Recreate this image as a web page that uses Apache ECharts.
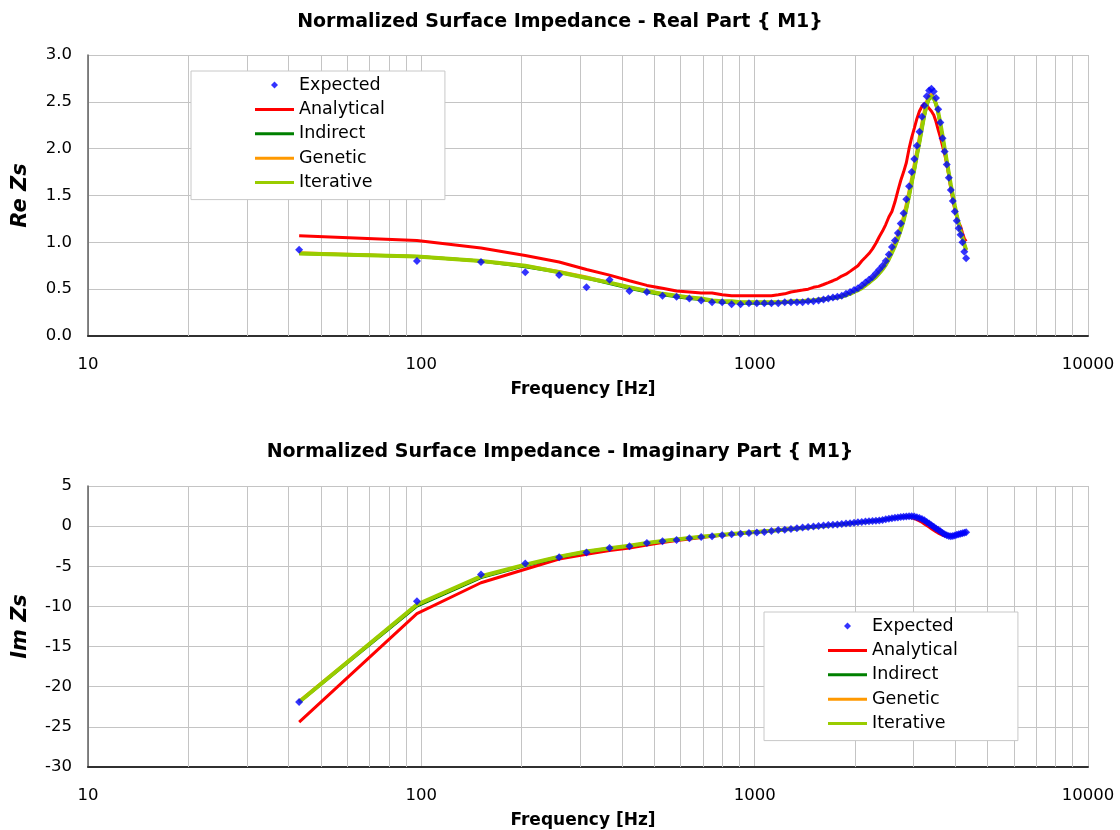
<!DOCTYPE html>
<html lang="en">
<head>
    <meta charset="UTF-8">
    <title>Normalized Surface Impedance</title>
    <script src="https://cdn.jsdelivr.net/npm/echarts@6/dist/echarts.min.js"></script>
    <style>
        html, body {margin: 0; padding: 0; background: #fff;}
        #chart {width: 1120px; height: 830px;}
    </style>
</head>
<body>
<div id="chart"></div>

<script>
    // frequencies of the measured points [Hz]
    const freq = [
        43, 97, 151, 205, 259, 313, 367, 421, 475, 529,
        583, 637, 691, 745, 799, 853, 907, 961, 1015, 1069,
        1123, 1177, 1231, 1285, 1339, 1393, 1447, 1501, 1555, 1609,
        1663, 1717, 1771, 1825, 1879, 1933, 1987, 2041, 2095, 2149,
        2203, 2257, 2311, 2365, 2419, 2473, 2527, 2581, 2635, 2689,
        2743, 2797, 2851, 2905, 2959, 3013, 3067, 3121, 3175, 3229,
        3283, 3337, 3391, 3445, 3499, 3553, 3607, 3661, 3715, 3769,
        3823, 3877, 3931, 3985, 4039, 4093, 4147, 4201, 4255, 4309
    ]

    // real part
    const reExpected = [
        0.92, 0.80, 0.79, 0.68, 0.65, 0.52, 0.60, 0.48, 0.47, 0.43,
        0.42, 0.40, 0.38, 0.36, 0.36, 0.34, 0.34, 0.35, 0.35, 0.35,
        0.35, 0.35, 0.36, 0.36, 0.36, 0.36, 0.37, 0.37, 0.38, 0.39,
        0.40, 0.41, 0.42, 0.43, 0.45, 0.47, 0.49, 0.51, 0.54, 0.57,
        0.60, 0.63, 0.67, 0.71, 0.75, 0.80, 0.87, 0.95, 1.02, 1.10,
        1.20, 1.31, 1.46, 1.60, 1.75, 1.89, 2.03, 2.18, 2.34, 2.46,
        2.56, 2.62, 2.64, 2.61, 2.54, 2.42, 2.28, 2.11, 1.97, 1.83,
        1.69, 1.56, 1.44, 1.33, 1.23, 1.15, 1.08, 1.00, 0.90, 0.83
    ]
    const reAnalytical = [
        1.07, 1.02, 0.94, 0.86, 0.79, 0.71, 0.65, 0.59, 0.54, 0.51,
        0.48, 0.47, 0.46, 0.46, 0.44, 0.43, 0.43, 0.43, 0.43, 0.43,
        0.43, 0.44, 0.45, 0.47, 0.48, 0.49, 0.50, 0.52, 0.53, 0.55,
        0.57, 0.59, 0.61, 0.64, 0.66, 0.69, 0.72, 0.75, 0.80, 0.84,
        0.88, 0.93, 0.99, 1.06, 1.12, 1.19, 1.27, 1.33, 1.43, 1.55,
        1.66, 1.75, 1.85, 2.00, 2.12, 2.22, 2.32, 2.40, 2.45, 2.48,
        2.46, 2.43, 2.40, 2.36, 2.29, 2.20, 2.12, 2.03, 1.94, 1.84,
        1.72, 1.57, 1.45, 1.35, 1.27, 1.21, 1.17, 1.10, 1.04, 1.01
    ]
    const reIndirect = [
        0.88, 0.85, 0.80, 0.74, 0.68, 0.62, 0.56, 0.51, 0.47, 0.44,
        0.42, 0.40, 0.39, 0.37, 0.36, 0.36, 0.35, 0.35, 0.35, 0.35,
        0.35, 0.36, 0.36, 0.36, 0.37, 0.37, 0.37, 0.38, 0.38, 0.39,
        0.40, 0.40, 0.41, 0.42, 0.43, 0.45, 0.47, 0.49, 0.51, 0.54,
        0.57, 0.60, 0.63, 0.67, 0.71, 0.76, 0.82, 0.89, 0.96, 1.04,
        1.13, 1.23, 1.35, 1.49, 1.63, 1.77, 1.92, 2.06, 2.21, 2.35,
        2.46, 2.53, 2.55, 2.53, 2.47, 2.38, 2.26, 2.13, 2.00, 1.87,
        1.74, 1.61, 1.50, 1.39, 1.29, 1.20, 1.12, 1.05, 0.98, 0.92
    ]
    const reGenetic = [
        0.89, 0.85, 0.80, 0.75, 0.69, 0.63, 0.57, 0.52, 0.48, 0.45,
        0.43, 0.41, 0.39, 0.38, 0.37, 0.36, 0.36, 0.36, 0.36, 0.36,
        0.36, 0.36, 0.36, 0.37, 0.37, 0.37, 0.38, 0.38, 0.39, 0.40,
        0.40, 0.41, 0.42, 0.43, 0.44, 0.46, 0.48, 0.50, 0.52, 0.55,
        0.58, 0.62, 0.65, 0.69, 0.73, 0.78, 0.85, 0.92, 1.00, 1.08,
        1.17, 1.28, 1.41, 1.55, 1.69, 1.84, 1.98, 2.13, 2.28, 2.41,
        2.51, 2.57, 2.58, 2.55, 2.48, 2.37, 2.25, 2.11, 1.97, 1.84,
        1.71, 1.59, 1.48, 1.37, 1.27, 1.19, 1.11, 1.04, 0.97, 0.91
    ]
    const reIterative = [
        0.88, 0.85, 0.80, 0.75, 0.68, 0.62, 0.57, 0.52, 0.48, 0.45,
        0.43, 0.41, 0.40, 0.38, 0.37, 0.37, 0.36, 0.36, 0.36, 0.36,
        0.36, 0.36, 0.36, 0.37, 0.37, 0.37, 0.38, 0.38, 0.39, 0.39,
        0.40, 0.41, 0.41, 0.42, 0.44, 0.45, 0.47, 0.49, 0.51, 0.54,
        0.57, 0.60, 0.63, 0.67, 0.71, 0.76, 0.82, 0.89, 0.96, 1.04,
        1.13, 1.23, 1.36, 1.50, 1.64, 1.78, 1.93, 2.07, 2.22, 2.36,
        2.47, 2.54, 2.56, 2.54, 2.48, 2.39, 2.27, 2.14, 2.00, 1.87,
        1.74, 1.61, 1.50, 1.39, 1.29, 1.20, 1.12, 1.05, 0.98, 0.92
    ]

    // imaginary part
    const imExpected = [
        -21.9, -9.35, -6.03, -4.66, -3.88, -3.28, -2.71, -2.51, -2.09, -1.89,
        -1.72, -1.52, -1.35, -1.25, -1.12, -1.00, -0.95, -0.85, -0.78, -0.74,
        -0.60, -0.48, -0.44, -0.36, -0.25, -0.18, -0.10, -0.04, 0.02, 0.07,
        0.14, 0.18, 0.22, 0.28, 0.33, 0.37, 0.42, 0.50, 0.53, 0.57,
        0.60, 0.64, 0.66, 0.69, 0.78, 0.86, 0.92, 0.98, 1.03, 1.08,
        1.14, 1.18, 1.21, 1.22, 1.22, 1.20, 1.12, 1.02, 0.88, 0.72,
        0.52, 0.32, 0.10, -0.08, -0.28, -0.44, -0.65, -0.85, -1.02, -1.14,
        -1.22, -1.27, -1.24, -1.15, -1.08, -1.02, -0.95, -0.90, -0.83, -0.77
    ]
    const imAnalytical = [
        -24.4, -10.9, -7.05, -5.37, -4.10, -3.50, -3.05, -2.72, -2.35, -2.05,
        -1.80, -1.60, -1.42, -1.25, -1.12, -1.00, -0.90, -0.80, -0.70, -0.62,
        -0.55, -0.48, -0.40, -0.33, -0.26, -0.20, -0.14, -0.08, -0.02, 0.04,
        0.10, 0.15, 0.20, 0.25, 0.30, 0.35, 0.40, 0.45, 0.50, 0.55,
        0.60, 0.65, 0.70, 0.75, 0.80, 0.86, 0.92, 0.98, 1.03, 1.08,
        1.11, 1.12, 1.12, 1.10, 1.04, 0.95, 0.82, 0.66, 0.48, 0.28,
        0.08, -0.12, -0.32, -0.52, -0.70, -0.86, -1.00, -1.12, -1.20, -1.24,
        -1.24, -1.20, -1.15, -1.10, -1.05, -1.00, -0.95, -0.90, -0.86, -0.82
    ]
    const imIndirect = [
        -21.9, -9.95, -6.40, -4.90, -3.88, -3.21, -2.80, -2.49, -2.13, -1.88,
        -1.68, -1.50, -1.34, -1.22, -1.10, -0.99, -0.90, -0.82, -0.74, -0.67,
        -0.60, -0.52, -0.45, -0.38, -0.31, -0.24, -0.17, -0.11, -0.05, 0.01,
        0.07, 0.12, 0.18, 0.23, 0.28, 0.33, 0.38, 0.43, 0.48, 0.53,
        0.58, 0.63, 0.68, 0.73, 0.78, 0.84, 0.90, 0.96, 1.02, 1.07,
        1.12, 1.16, 1.18, 1.19, 1.18, 1.14, 1.06, 0.96, 0.84, 0.70,
        0.54, 0.36, 0.16, -0.04, -0.24, -0.44, -0.62, -0.80, -0.96, -1.08,
        -1.16, -1.20, -1.20, -1.17, -1.12, -1.07, -1.02, -0.97, -0.92, -0.88
    ]
    const imGenetic = [
        -21.8, -9.80, -6.28, -4.82, -3.82, -3.17, -2.76, -2.46, -2.11, -1.86,
        -1.66, -1.49, -1.33, -1.21, -1.09, -0.98, -0.89, -0.81, -0.73, -0.66,
        -0.59, -0.51, -0.44, -0.37, -0.30, -0.23, -0.16, -0.10, -0.04, 0.02,
        0.08, 0.13, 0.19, 0.24, 0.29, 0.34, 0.39, 0.44, 0.49, 0.54,
        0.59, 0.64, 0.69, 0.74, 0.80, 0.86, 0.92, 0.98, 1.04, 1.09,
        1.14, 1.17, 1.19, 1.19, 1.17, 1.12, 1.04, 0.93, 0.80, 0.65,
        0.48, 0.30, 0.10, -0.10, -0.30, -0.49, -0.66, -0.83, -0.98, -1.09,
        -1.16, -1.19, -1.18, -1.15, -1.10, -1.05, -1.00, -0.95, -0.91, -0.87
    ]
    const imIterative = [
        -21.9, -9.76, -6.24, -4.79, -3.80, -3.15, -2.75, -2.45, -2.10, -1.85,
        -1.65, -1.48, -1.32, -1.20, -1.08, -0.97, -0.88, -0.80, -0.72, -0.65,
        -0.58, -0.50, -0.43, -0.36, -0.29, -0.22, -0.15, -0.09, -0.03, 0.03,
        0.09, 0.14, 0.20, 0.25, 0.30, 0.35, 0.40, 0.45, 0.50, 0.55,
        0.60, 0.65, 0.70, 0.75, 0.80, 0.86, 0.92, 0.98, 1.04, 1.09,
        1.14, 1.18, 1.20, 1.21, 1.20, 1.16, 1.08, 0.98, 0.86, 0.72,
        0.56, 0.38, 0.18, -0.02, -0.22, -0.42, -0.60, -0.78, -0.94, -1.06,
        -1.14, -1.18, -1.18, -1.15, -1.10, -1.05, -1.00, -0.95, -0.90, -0.86
    ]

    // minor vertical gridlines of the log axis
    const minorGrid = [
        20, 30, 40, 50, 60, 70, 80, 90,
        200, 300, 400, 500, 600, 700, 800, 900,
        2000, 3000, 4000, 5000, 6000, 7000, 8000, 9000
    ]

    const seriesNames = ['Expected', 'Analytical', 'Indirect', 'Genetic', 'Iterative']
    const lineColors = {Analytical: '#ff0000', Indirect: '#008000', Genetic: '#ff9900', Iterative: '#99cc00'}
    const lineWidths = {Analytical: 3, Indirect: 3, Genetic: 3, Iterative: 4}

    const FONT = 'DejaVu Sans'
    const GRID_COLOR = '#c4c4c4'
    // legend icons: a small diamond for the markers, a flat bar for the lines
    const ICON_DIAMOND = 'path://M3.5,0L7,3.5L3.5,7L0,3.5Z'
    const ICON_LINE = 'path://M0,0H39V3H0Z'

    function pairs(values) {
        return freq.map((f, i) => [f, values[i]])
    }

    function makeLegend(left, top) {
        return {
            orient: 'vertical',
            left: left,
            top: top,
            z: 10,
            padding: [4, 60, 7, 64],
            itemGap: 4.4,
            itemWidth: 39,
            itemHeight: 7,
            backgroundColor: '#fff',
            borderColor: '#c8c8c8',
            borderWidth: 1,
            borderRadius: 0,
            selectedMode: false,
            symbolKeepAspect: true,
            textStyle: {fontFamily: FONT, fontSize: 17.5, color: '#000', lineHeight: 20},
            data: seriesNames.map(n => ({name: n, icon: n === 'Expected' ? ICON_DIAMOND : ICON_LINE}))
        }
    }

    function makeX(idx) {
        return {
            type: 'log',
            logBase: 10,
            gridIndex: idx,
            min: 10,
            max: 10000,
            axisLine: {show: true, onZero: false, lineStyle: {color: '#303030', width: 2}},
            axisTick: {show: false},
            axisLabel: {
                fontFamily: FONT, fontSize: 16.5, color: '#000', margin: 20,
                showMinLabel: true, showMaxLabel: true,
                formatter: v => String(Math.round(v))
            },
            splitLine: {show: true, lineStyle: {color: GRID_COLOR, width: 1}},
            name: 'Frequency [Hz]',
            nameLocation: 'middle',
            nameGap: 45,
            nameTextStyle: {fontFamily: FONT, fontWeight: 'bold', fontSize: 17, color: '#000', padding: [0, 10, 0, 0]}
        }
    }

    function makeY(idx, name, min, max, step, digits) {
        return {
            type: 'value',
            gridIndex: idx,
            min: min,
            max: max,
            interval: step,
            axisLine: {show: true, onZero: false, lineStyle: {color: '#606060', width: 1.5}},
            axisTick: {show: false},
            axisLabel: {
                fontFamily: FONT, fontSize: 16.5, color: '#000', margin: 16,
                formatter: v => v.toFixed(digits)
            },
            splitLine: {show: true, lineStyle: {color: GRID_COLOR, width: 1}},
            name: name,
            nameLocation: 'middle',
            nameGap: 57,
            nameTextStyle: {fontFamily: FONT, fontWeight: 'bold', fontStyle: 'italic', fontSize: 21, color: '#000'}
        }
    }

    function makeSeries(idx, data) {
        let list = [
            // helper: minor gridlines through the log scale
            {
                type: 'line',
                xAxisIndex: idx,
                yAxisIndex: idx,
                data: [],
                silent: true,
                z: 1,
                markLine: {
                    silent: true,
                    animation: false,
                    z: 1,
                    symbol: ['none', 'none'],
                    label: {show: false},
                    lineStyle: {color: GRID_COLOR, width: 1, type: 'solid'},
                    data: minorGrid.map(v => ({xAxis: v}))
                }
            }
        ]
        ;['Analytical', 'Indirect', 'Genetic', 'Iterative'].forEach(name => {
            list.push({
                name: name,
                type: 'line',
                xAxisIndex: idx,
                yAxisIndex: idx,
                data: pairs(data[name]),
                symbol: 'none',
                showSymbol: false,
                lineStyle: {color: lineColors[name], width: lineWidths[name]},
                itemStyle: {color: lineColors[name]},
                z: 3
            })
        })
        list.push({
            name: 'Expected',
            type: 'scatter',
            xAxisIndex: idx,
            yAxisIndex: idx,
            data: pairs(data.Expected),
            symbol: 'diamond',
            symbolSize: 8,
            itemStyle: {color: '#0000ff'},
            z: 4
        })
        return list
    }

    let myChart = echarts.init(document.getElementById('chart'), null, {renderer: 'canvas'})

    let option = {
        animation: false,
        backgroundColor: '#fff',
        title: [
            {
                text: 'Normalized Surface Impedance - Real Part { M1}',
                left: 'center', top: 11, padding: 0,
                textStyle: {fontFamily: FONT, fontWeight: 'bold', fontSize: 19, color: '#000', lineHeight: 22}
            },
            {
                text: 'Normalized Surface Impedance - Imaginary Part { M1}',
                left: 'center', top: 441, padding: 0,
                textStyle: {fontFamily: FONT, fontWeight: 'bold', fontSize: 19, color: '#000', lineHeight: 22}
            }
        ],
        legend: [makeLegend(191, 71), makeLegend(764, 612)],
        grid: [
            {left: 88, top: 55, width: 1000, height: 281},
            {left: 88, top: 486, width: 1000, height: 281}
        ],
        xAxis: [makeX(0), makeX(1)],
        yAxis: [
            makeY(0, 'Re Zs', 0, 3, 0.5, 1),
            makeY(1, 'Im Zs', -30, 5, 5, 0)
        ],
        series: makeSeries(0, {
            Expected: reExpected, Analytical: reAnalytical, Indirect: reIndirect,
            Genetic: reGenetic, Iterative: reIterative
        }).concat(makeSeries(1, {
            Expected: imExpected, Analytical: imAnalytical, Indirect: imIndirect,
            Genetic: imGenetic, Iterative: imIterative
        }))
    }

    myChart.setOption(option)
</script>
</body>
</html>
